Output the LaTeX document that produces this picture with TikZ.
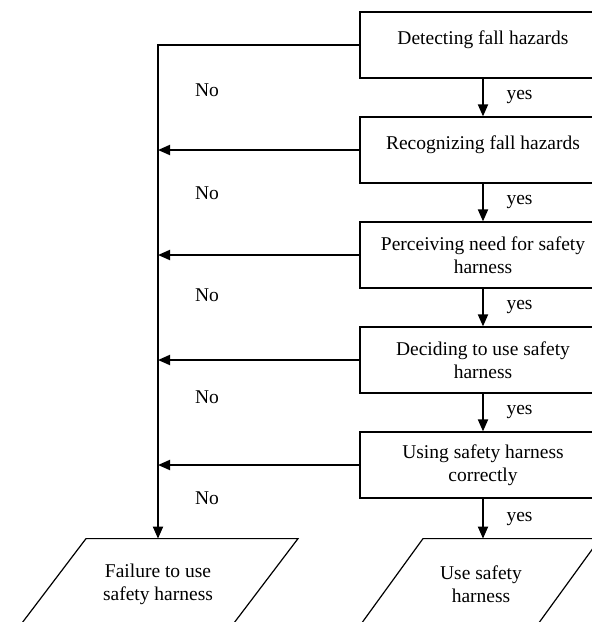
\documentclass[tikz,border=0pt]{standalone}
\usepackage{fontspec}
\setmainfont{Liberation Serif}
\usetikzlibrary{arrows.meta}

\tikzset{
    stage/.style={draw, line width=0.6pt, minimum width=123pt, minimum height=33pt, align=center, inner sep=2pt},
    oneline/.style={text depth=7pt},
    outcome/.style={minimum height=45.5pt, align=center, inner sep=2pt},
    outline/.style={line width=0.6pt},
    flow/.style={line width=0.9pt, -{Triangle[length=6pt,width=5pt]}}
}

\begin{document}
\begin{tikzpicture}[x=0.5pt, y=0.5pt, every node/.style={font=\fontsize{9.75}{11.5}\selectfont}]
    \useasboundingbox (0,0) rectangle (592,-622);
    \clip (0,0) rectangle (592,-622);
    % stages
    \node[stage, oneline] (detect) at (483,-45) {Detecting fall hazards};
    \node[stage, oneline] (recog) at (483,-150) {Recognizing fall hazards};
    \node[stage] (perceive) at (483,-255) {Perceiving need for safety\\harness};
    \node[stage] (decide) at (483,-360) {Deciding to use safety\\harness};
    \node[stage] (use) at (483,-465) {Using safety harness\\correctly};
    % outcomes
    \node[outcome] (failure) at (158,-584.5) {Failure to use\\safety harness};
    \node[outcome] (success) at (481,-584.5) {Use safety\\harness};
    \draw[outline] ([shift={(-72,0)}]failure.north) -- ++(212,0) -- ++(-69,-91) -- ++(-212,0) -- cycle;
    \draw[outline] ([shift={(-58,0)}]success.north) -- ++(177,0) -- ++(-66,-91) -- ++(-177,0) -- cycle;
    % yes path
    \draw[flow] (detect.south) -- (recog.north) node[midway, right=8pt] {yes};
    \draw[flow] (recog.south) -- (perceive.north) node[midway, right=8pt] {yes};
    \draw[flow] (perceive.south) -- (decide.north) node[midway, right=8pt] {yes};
    \draw[flow] (decide.south) -- (use.north) node[midway, right=8pt] {yes};
    \draw[flow] (use.south) -- (use.south |- success.north) node[midway, right=8pt] {yes};
    % no path
    \coordinate (corner) at (158,-45);
    \draw[flow] (detect.west) -- (corner) -- (corner |- failure.north);
    \foreach \s in {recog, perceive, decide, use}
        \draw[flow] (\s.west) -- (\s.west -| corner);
    \node (no1) at (207,-90) {No};
    \node (no2) at (207,-193) {No};
    \node (no3) at (207,-295) {No};
    \node (no4) at (207,-397) {No};
    \node (no5) at (207,-498) {No};
\end{tikzpicture}
\end{document}
